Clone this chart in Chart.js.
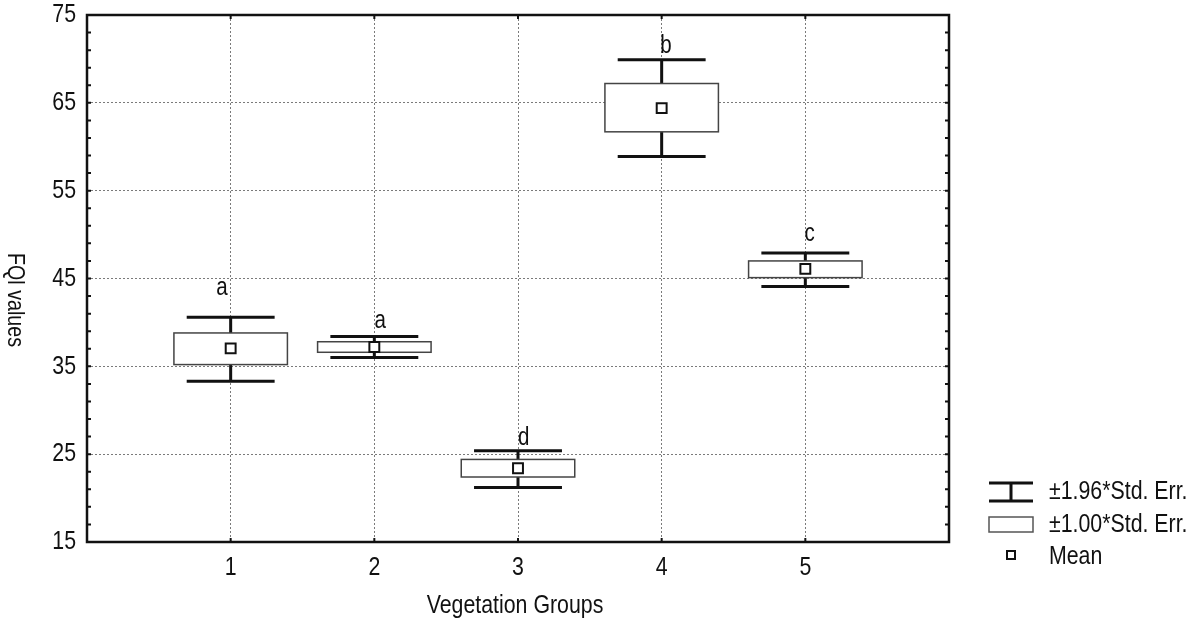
<!DOCTYPE html>
<html>
<head>
<meta charset="utf-8">
<script src="https://cdn.jsdelivr.net/npm/chart.js@4/dist/chart.umd.min.js"></script>
<style>
  html, body { margin: 0; padding: 0; background: #ffffff; }
  #wrap { width: 1198px; height: 622px; }
</style>
</head>
<body>
<div id="wrap"><canvas id="fqiChart" width="1198" height="622"></canvas></div>
<script>
// Vegetation groups and FQI statistics
const groups = [1, 2, 3, 4, 5];
const means = [37.05, 37.2, 23.4, 64.4, 46.1];
const seLow = [35.2, 36.6, 22.4, 61.7, 45.1];   // mean - 1.00*SE
const seHigh = [38.8, 37.8, 24.4, 67.2, 47.0];  // mean + 1.00*SE
const ciLow = [33.3, 36.0, 21.2, 58.9, 44.1];   // mean - 1.96*SE
const ciHigh = [40.6, 38.4, 25.4, 69.9, 47.9];  // mean + 1.96*SE
const letters = ["a", "a", "d", "b", "c"];
const letterX = [0.94, 2.04, 3.04, 4.03, 5.03];
const letterY = [43.9, 40.1, 26.8, 71.5, 50.1];
const yTicks = [15, 25, 35, 45, 55, 65, 75];
const xTicks = [1, 2, 3, 4, 5];

const FONT = "'Liberation Sans', Arial, sans-serif";
const SQUEEZE = 0.82; // the original uses a narrow Arial

// text squeezed horizontally (or along its direction when rotated)
function narrowText(ctx, text, px, py, size, align, rot) {
  ctx.save();
  ctx.translate(px, py);
  if (rot) ctx.rotate(rot);
  ctx.scale(SQUEEZE, 1);
  ctx.font = size + "px " + FONT;
  ctx.textAlign = align;
  ctx.textBaseline = "middle";
  ctx.fillText(text, 0, 0);
  ctx.restore();
}

// boxes, whiskers, letters, frame, minor ticks, labels and the legend
const boxPlugin = {
  id: "boxPlugin",
  beforeDatasetsDraw(chart) {
    const ctx = chart.ctx;
    const x = chart.scales.x, y = chart.scales.y;
    ctx.save();
    groups.forEach((g, i) => {
      const cx = x.getPixelForValue(g);
      const bl = x.getPixelForValue(g - 0.395), br = x.getPixelForValue(g + 0.395);
      const wl = x.getPixelForValue(g - 0.306), wr = x.getPixelForValue(g + 0.306);
      const yTop = y.getPixelForValue(seHigh[i]), yBot = y.getPixelForValue(seLow[i]);
      const cTop = y.getPixelForValue(ciHigh[i]), cBot = y.getPixelForValue(ciLow[i]);

      // whiskers
      ctx.strokeStyle = "#111";
      ctx.lineWidth = 3;
      ctx.beginPath();
      ctx.moveTo(cx, cTop); ctx.lineTo(cx, yTop);
      ctx.moveTo(cx, yBot); ctx.lineTo(cx, cBot);
      ctx.moveTo(wl, cTop); ctx.lineTo(wr, cTop);
      ctx.moveTo(wl, cBot); ctx.lineTo(wr, cBot);
      ctx.stroke();

      // box
      ctx.fillStyle = "#ffffff";
      ctx.fillRect(bl, yTop, br - bl, yBot - yTop);
      ctx.strokeStyle = "#444";
      ctx.lineWidth = 1.5;
      ctx.strokeRect(bl, yTop, br - bl, yBot - yTop);

      // letter
      ctx.fillStyle = "#111";
      narrowText(ctx, letters[i], x.getPixelForValue(letterX[i]), y.getPixelForValue(letterY[i]), 25, "center");
    });
    ctx.restore();
  },
  afterDraw(chart) {
    const ctx = chart.ctx;
    const a = chart.chartArea;
    const x = chart.scales.x, y = chart.scales.y;
    ctx.save();

    // frame
    ctx.strokeStyle = "#111";
    ctx.lineWidth = 2.5;
    ctx.strokeRect(a.left, a.top, a.right - a.left, a.bottom - a.top);

    // small inward ticks every 2 units on both sides
    ctx.lineWidth = 2;
    ctx.beginPath();
    for (let v = 15; v <= 75; v += 2) {
      const py = y.getPixelForValue(v);
      ctx.moveTo(a.left, py); ctx.lineTo(a.left + 4, py);
      ctx.moveTo(a.right, py); ctx.lineTo(a.right - 4, py);
    }
    xTicks.forEach(v => {
      const px = x.getPixelForValue(v);
      ctx.moveTo(px, a.bottom); ctx.lineTo(px, a.bottom - 4);
      ctx.moveTo(px, a.top); ctx.lineTo(px, a.top + 4);
    });
    ctx.stroke();

    // tick labels
    ctx.fillStyle = "#111";
    yTicks.forEach(v => narrowText(ctx, String(v), a.left - 11, y.getPixelForValue(v), 26, "right"));
    xTicks.forEach(v => narrowText(ctx, String(v), x.getPixelForValue(v), a.bottom + 26, 26, "center"));

    // axis titles
    narrowText(ctx, "Vegetation Groups", (a.left + a.right) / 2 - 3, 606, 26, "center");
    narrowText(ctx, "FQl values", 15, 300, 24, "center", Math.PI / 2);

    // legend
    const lx = 989, lw = 44;
    ctx.strokeStyle = "#111";
    ctx.lineWidth = 3;
    ctx.beginPath();
    ctx.moveTo(lx, 483); ctx.lineTo(lx + lw, 483);
    ctx.moveTo(lx, 501); ctx.lineTo(lx + lw, 501);
    ctx.moveTo(lx + lw / 2, 483); ctx.lineTo(lx + lw / 2, 501);
    ctx.stroke();
    ctx.strokeStyle = "#555";
    ctx.lineWidth = 1.5;
    ctx.strokeRect(lx, 517, lw, 15);
    ctx.strokeStyle = "#111";
    ctx.lineWidth = 2;
    ctx.strokeRect(lx + lw / 2 - 4, 551, 8, 8);
    narrowText(ctx, "\u00b11.96*Std. Err.", 1049, 492, 26, "left");
    narrowText(ctx, "\u00b11.00*Std. Err.", 1049, 525, 26, "left");
    narrowText(ctx, "Mean", 1049, 557, 26, "left");
    ctx.restore();
  }
};

const gridColor = (edgeVals) => (c) => {
  const v = c.tick ? c.tick.value : null;
  return edgeVals.includes(v) ? "rgba(0,0,0,0)" : "#7a7a7a";
};

new Chart(document.getElementById("fqiChart").getContext("2d"), {
  type: "scatter",
  data: {
    datasets: [{
      label: "Mean",
      data: groups.map((g, i) => ({ x: g, y: means[i] })),
      pointStyle: "rect",
      pointRadius: 7,
      pointBorderWidth: 2,
      borderColor: "#111",
      backgroundColor: "#ffffff",
    }],
  },
  options: {
    responsive: false,
    animation: false,
    layout: { padding: { left: 0, right: 249, top: 15, bottom: 0 } },
    plugins: { legend: { display: false }, tooltip: { enabled: false } },
    scales: {
      x: {
        type: "linear",
        min: 0,
        max: 6,
        afterBuildTicks: (s) => { s.ticks = [0, 1, 2, 3, 4, 5, 6].map(v => ({ value: v })); },
        afterFit: (s) => { s.height = 80; },
        border: { display: false, dash: [2, 2] },
        grid: { color: gridColor([0, 6]), lineWidth: 1, drawTicks: false },
        ticks: { display: false },
      },
      y: {
        min: 15,
        max: 75,
        afterBuildTicks: (s) => { s.ticks = yTicks.map(v => ({ value: v })); },
        afterFit: (s) => { s.width = 87; },
        border: { display: false, dash: [2, 2] },
        grid: { color: gridColor([15, 75]), lineWidth: 1, drawTicks: false },
        ticks: { display: false },
      },
    },
  },
  plugins: [boxPlugin],
});
</script>
</body>
</html>
